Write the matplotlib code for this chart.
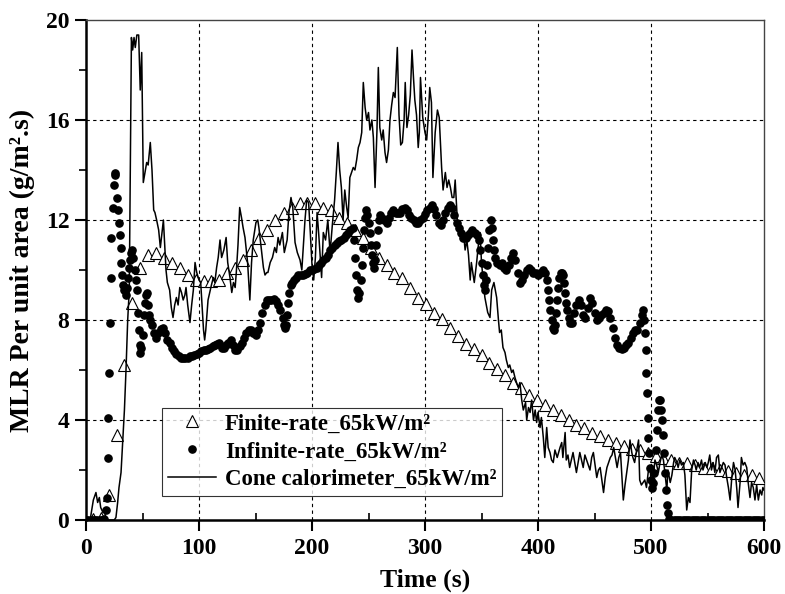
"""
MLR per unit area vs. time at 65 kW/m2.
Finite-rate and infinite-rate pyrolysis models compared with
the cone calorimeter measurement.
"""

import matplotlib.pyplot as plt
from matplotlib.ticker import MultipleLocator

# ==============================================================================
# 1. GLOBAL STYLE
# ==============================================================================
plt.rcParams['font.family'] = 'serif'
plt.rcParams['font.serif'] = ['Liberation Serif', 'DejaVu Serif']
plt.rcParams['font.weight'] = 'bold'
plt.rcParams['axes.labelweight'] = 'bold'

# ==============================================================================
# 2. DATA
# ==============================================================================
finite_t = [6, 13, 20, 27, 34, 41, 48, 55, 62, 69,
            76, 83, 90, 97, 104, 111, 118, 125, 132, 139,
            146, 153, 160, 167, 175, 182, 189, 196, 203, 210,
            217, 224, 231, 238, 245, 252, 259, 266, 273, 280,
            287, 294, 301, 308, 315, 322, 329, 336, 343, 350,
            357, 364, 371, 378, 385, 392, 399, 406, 413, 420,
            427, 434, 441, 448, 455, 462, 469, 476, 483, 490,
            497, 504, 511, 518, 525, 532, 539, 547, 554, 561,
            568, 575, 582, 589, 596]
finite_mlr = [0.05, 0.1, 1.0, 3.4, 6.2, 8.7, 10.1, 10.6, 10.7, 10.5,
              10.3, 10.1, 9.8, 9.6, 9.55, 9.55, 9.6, 9.9, 10.1, 10.4,
              10.8, 11.3, 11.6, 12.0, 12.3, 12.5, 12.7, 12.7, 12.7, 12.5,
              12.4, 12.1, 11.9, 11.6, 11.3, 10.9, 10.5, 10.2, 9.9, 9.7,
              9.3, 8.9, 8.65, 8.3, 8.05, 7.7, 7.35, 7.05, 6.85, 6.6,
              6.3, 6.05, 5.8, 5.5, 5.3, 5.0, 4.8, 4.6, 4.4, 4.2,
              4.0, 3.8, 3.7, 3.5, 3.35, 3.2, 3.1, 2.95, 2.85, 2.8,
              2.7, 2.55, 2.5, 2.4, 2.3, 2.3, 2.2, 2.1, 2.1, 2.0,
              1.95, 1.9, 1.8, 1.8, 1.7]

infinite_t = [0, 2, 4, 6, 8, 10, 12, 14, 16, 17.7,
              18.3, 19.5, 19.9, 20.6, 21.5, 22.0, 22.5, 23.6, 24.5, 25.3,
              25.8, 27.5, 28.5, 29.3, 30.0, 30.7, 31.3, 32.0, 33.0, 34.0,
              35, 36, 37, 38, 39, 40, 41, 42, 43, 44,
              45, 46, 47, 47.5, 48, 49, 50, 51, 52, 53,
              54, 55, 56, 57, 58, 60, 62, 64, 66, 68,
              70, 72, 74, 76, 78, 80, 82, 84, 86, 88,
              90, 92, 94, 96, 98, 100, 102, 104, 106, 108,
              110, 112, 114, 116, 118, 120, 122, 124, 126, 128,
              130, 132, 134, 136, 138, 140, 142, 144, 146, 148,
              150, 152, 154, 156, 158, 160, 162, 164, 166, 168,
              170, 172, 174, 175, 176, 177, 178, 179, 180, 181,
              182, 184, 186, 188, 190, 192, 194, 196, 198, 200,
              202, 204, 206, 208, 210, 212, 214, 216, 218, 220,
              222, 224, 226, 228, 230, 232, 234, 236, 237, 238,
              239, 240, 241, 242, 243, 244, 245, 246, 247, 248,
              249, 250, 251, 252, 253, 254, 255, 256, 257, 258,
              259, 260, 262, 264, 266, 268, 270, 272, 274, 276,
              278, 280, 282, 284, 286, 288, 290, 292, 294, 296,
              298, 300, 302, 304, 306, 308, 310, 312, 314, 316,
              318, 320, 322, 324, 326, 328, 330, 332, 334, 336,
              338, 340, 342, 344, 346, 348, 349, 350, 351, 352,
              353, 354, 355, 356, 357, 358, 359, 360, 361, 362,
              364, 366, 368, 370, 372, 374, 376, 378, 380, 382,
              384, 386, 388, 390, 392, 394, 396, 398, 400, 402,
              404, 406, 408, 409, 410, 411, 412, 413, 414, 415,
              416, 417, 418, 419, 420, 421, 422, 423, 424, 425,
              426, 427, 428, 430, 432, 434, 436, 438, 440, 442,
              444, 446, 448, 450, 452, 454, 456, 458, 460, 462,
              464, 466, 468, 470, 472, 474, 476, 478, 480, 482,
              484, 486, 488, 490, 492, 493, 494, 495, 495.5, 496,
              496.5, 497, 497.5, 498, 499, 500, 501, 502, 503, 504,
              505, 506, 507, 508, 509, 510, 511, 511.5, 512, 513,
              514, 515, 516, 518, 520, 522, 524, 526, 528, 530,
              532, 534, 536, 538, 540, 542, 544, 546, 548, 550,
              552, 554, 556, 558, 560, 562, 564, 566, 568, 570,
              572, 574, 576, 578, 580, 582, 584, 586, 588, 590,
              592, 594, 596, 598, 600]
infinite_mlr = [0, 0, 0, 0, 0, 0, 0, 0, 0.05, 0.4,
                0.9, 2.5, 4.1, 5.9, 7.9, 9.7, 11.3, 12.5, 13.4, 13.8,
                13.9, 12.9, 12.4, 11.9, 11.4, 10.9, 10.3, 9.8, 9.4, 9.2,
                9.0, 9.3, 9.7, 10.1, 10.4, 10.7, 10.8, 10.5, 10.0, 9.6,
                9.2, 8.3, 7.6, 7.0, 6.7, 6.9, 7.4, 8.2, 8.7, 9.0,
                9.1, 8.6, 8.2, 8.0, 7.8, 7.5, 7.3, 7.5, 7.65, 7.7,
                7.5, 7.2, 7.1, 6.9, 6.75, 6.65, 6.55, 6.5, 6.5, 6.5,
                6.5, 6.55, 6.55, 6.6, 6.65, 6.7, 6.75, 6.8, 6.8, 6.85,
                6.9, 6.95, 7.0, 7.05, 7.1, 6.9, 6.9, 7.0, 7.1, 7.2,
                7.0, 6.8, 6.8, 6.95, 7.1, 7.3, 7.5, 7.6, 7.6, 7.5,
                7.4, 7.6, 7.9, 8.3, 8.6, 8.8, 8.8, 8.8, 8.85, 8.75,
                8.6, 8.4, 8.1, 7.8, 7.7, 7.8, 8.2, 8.7, 9.1, 9.4,
                9.5, 9.6, 9.7, 9.8, 9.8, 9.8, 9.85, 9.9, 10.0, 10.0,
                10.05, 10.1, 10.2, 10.3, 10.4, 10.5, 10.6, 10.8, 10.9, 11.0,
                11.1, 11.15, 11.2, 11.3, 11.4, 11.5, 11.6, 11.7, 11.2, 10.5,
                9.8, 9.2, 8.9, 9.1, 9.6, 10.2, 10.9, 11.6, 12.1, 12.4,
                12.2, 11.9, 11.5, 11.0, 10.6, 10.3, 10.1, 10.4, 11.0, 11.6,
                12.0, 12.2, 12.1, 12.0, 11.9, 12.1, 12.3, 12.4, 12.3, 12.3,
                12.3, 12.45, 12.5, 12.4, 12.2, 12.1, 12.0, 11.9, 11.9, 12.0,
                12.1, 12.25, 12.4, 12.5, 12.6, 12.45, 12.2, 11.9, 11.8, 12.0,
                12.3, 12.5, 12.6, 12.5, 12.2, 11.9, 11.7, 11.5, 11.3, 11.3,
                11.4, 11.5, 11.6, 11.5, 11.4, 11.2, 10.8, 10.3, 9.8, 9.4,
                9.2, 9.6, 10.2, 10.9, 11.6, 12.0, 11.7, 11.2, 10.8, 10.5,
                10.3, 10.2, 10.3, 10.1, 10.0, 10.2, 10.5, 10.7, 10.4, 9.9,
                9.5, 9.6, 9.8, 10.0, 10.1, 10.0, 9.9, 9.9, 9.8, 9.9,
                10.0, 9.9, 9.6, 9.2, 8.8, 8.4, 8.0, 7.7, 7.6, 7.8,
                8.3, 8.8, 9.3, 9.7, 9.9, 9.9, 9.8, 9.5, 9.1, 8.7,
                8.4, 8.1, 7.9, 7.9, 8.3, 8.6, 8.8, 8.6, 8.2, 8.1,
                8.5, 8.9, 8.7, 8.3, 8.0, 8.1, 8.2, 8.3, 8.4, 8.35,
                8.1, 7.7, 7.3, 7.0, 6.9, 6.85, 6.9, 7.0, 7.1, 7.3,
                7.5, 7.6, 7.6, 7.9, 8.2, 8.4, 8.0, 7.5, 6.8, 5.9,
                5.1, 4.1, 3.3, 2.7, 2.1, 1.6, 1.3, 1.5, 1.9, 2.8,
                3.6, 4.4, 4.8, 4.8, 4.4, 4.0, 3.4, 2.7, 1.9, 1.2,
                0.6, 0.3, 0.05, 0, 0, 0, 0, 0, 0, 0,
                0, 0, 0, 0, 0, 0, 0, 0, 0, 0,
                0, 0, 0, 0, 0, 0, 0, 0, 0, 0,
                0, 0, 0, 0, 0, 0, 0, 0, 0, 0,
                0, 0, 0, 0, 0]

cone_t = [0, 2, 4, 6.5, 8.8, 10.3, 11.8, 13, 15, 16,
          17.5, 19, 21, 23, 25, 26.5, 28, 29.2, 31, 32.4,
          34, 35.4, 36.9, 38.3, 39.2, 40.2, 41.3, 42.5, 43.6, 45,
          46.6, 48, 49.3, 50.7, 52.2, 53.7, 55, 56.9, 58.4, 59.9,
          61, 62.5, 64.3, 65.8, 67, 68.5, 70.8, 72, 74, 75.5,
          77, 78.5, 80, 81.5, 83, 84.5, 86, 87.5, 88.5, 90,
          92, 93.5, 95, 96.5, 98, 100, 101.5, 103, 104, 105,
          106, 108, 109.5, 111, 112.7, 114, 115.6, 117, 118.6, 120,
          122, 124, 125.4, 127.4, 129, 130.5, 132, 133, 134.5, 136,
          137.6, 139, 140.7, 143, 145, 146.5, 148, 150.4, 152, 153,
          155, 157, 158.4, 160, 161, 163, 165, 167, 168.5, 170,
          171.5, 173.8, 175.5, 178, 179.6, 181.4, 183, 185, 187, 189.4,
          191, 193.8, 195.3, 197, 198.5, 200, 201.5, 203, 204.5, 206,
          208.5, 210, 212, 214, 216, 218, 220, 221.5, 223, 224.5,
          226, 227.5, 229, 230.7, 232, 233.5, 235, 236.5, 238, 239.5,
          241, 242.5, 244, 245.4, 247, 248.4, 250, 251.3, 253, 254.3,
          255.8, 257.5, 258.7, 260, 261.7, 263, 264.6, 266, 267.6, 269,
          270.5, 272, 273.5, 275.5, 277, 278.5, 280, 281.5, 282.5, 284,
          285.5, 287, 288.5, 289.8, 291, 292.5, 294, 295, 296, 298,
          300, 301.5, 303, 304.2, 305.7, 307, 309, 311, 312.6, 314.7,
          316, 318, 319.5, 321, 322.5, 324, 325.5, 326.7, 328.6, 331,
          332.5, 334, 335.5, 337, 338.5, 340, 341, 343.6, 345.7, 347,
          348.7, 350, 351.5, 353, 355.5, 357.5, 359, 361, 363.4, 365,
          366, 367.5, 369, 370.8, 372, 373.7, 375, 376.7, 378, 379.6,
          381, 382.6, 384, 385.6, 387, 389, 390, 391.6, 393, 394.4,
          396, 397.5, 398.8, 400, 401.8, 403, 404.7, 406, 407.7, 409,
          410.6, 412, 413.5, 415, 417, 419.5, 421, 422, 424, 425,
          426.5, 428, 429.5, 431, 432.5, 434, 435.5, 437, 438.5, 440,
          441.5, 443, 444.5, 446, 447.5, 449, 450.5, 452, 453.5, 455,
          456.5, 458, 459.5, 461, 462.5, 464, 465.5, 467, 468.5, 470,
          471.5, 473, 474.5, 475.5, 477, 478.5, 480, 481.4, 483, 484,
          485.5, 487, 489, 490, 491.5, 493, 494.5, 496, 497.5, 499,
          500.5, 502, 503.5, 505, 506.5, 508, 509.5, 511, 512, 514,
          515, 517, 518.5, 520, 521, 523, 524, 525.5, 527, 528.6,
          530, 531.6, 533, 534.5, 536, 537.6, 539, 540, 541.6, 543,
          544.7, 546, 548, 549.5, 550.7, 552, 553.5, 555, 556.5, 558,
          559.6, 561, 562.5, 564, 565.5, 567, 568.5, 570, 571.5, 573,
          574.5, 576, 577, 579, 580, 581.5, 583, 584.7, 586, 587.6,
          589, 590.5, 592, 593.5, 595, 596.5, 598, 599, 600]
cone_mlr = [0, 0, 0.1, 0.8, 1.1, 0.7, 0.9, 0.5, 0.3, 0.4,
            0.1, 0, 0, 0, 0, 0.1, 0.7, 1.3, 1.9, 3.1,
            4.4, 6.0, 8.0, 9.2, 14.0, 19.3, 18.8, 19.3, 18.9, 19.4,
            19.4, 17.2, 18.7, 13.5, 13.9, 14.3, 14.2, 15.1, 14.0, 12.4,
            12.3, 12.0, 11.6, 10.9, 11.4, 12.0, 10.0, 9.5, 9.2, 8.5,
            8.1, 8.6, 8.9, 8.6, 9.3, 9.1, 8.8, 9.0, 9.3, 8.6,
            7.9, 8.6, 9.2, 10.3, 9.9, 9.6, 9.5, 8.4, 7.6, 7.2,
            7.6, 8.8, 9.1, 9.4, 9.7, 9.5, 10.1, 10.5, 11.2, 10.5,
            10.8, 11.3, 10.3, 9.7, 9.1, 9.5, 9.3, 9.9, 11.0, 12.5,
            12.1, 11.7, 11.3, 10.3, 8.8, 10.3, 11.2, 11.9, 12.0, 11.7,
            10.9, 10.1, 9.8, 9.9, 9.9, 10.3, 10.5, 10.9, 10.7, 11.3,
            11.0, 11.5, 10.7, 11.2, 12.3, 12.9, 12.5, 11.1, 10.7, 10.4,
            10.0, 12.0, 12.8, 12.7, 11.5, 10.2, 9.6, 10.5, 12.3, 11.4,
            9.7, 11.5, 11.2, 12.0, 10.7, 11.8, 12.8, 13.9, 15.1, 14.0,
            13.3, 12.0, 13.2, 12.5, 12.1, 13.7, 13.9, 14.1, 14.0, 14.4,
            14.9, 15.1, 15.5, 17.5, 16.5, 16.0, 16.3, 15.6, 16.0, 15.3,
            13.3, 15.6, 18.1, 15.7, 15.2, 15.6, 14.7, 14.3, 14.8, 16.0,
            16.6, 17.1, 16.9, 18.9, 16.2, 15.0, 15.1, 16.0, 17.5, 15.7,
            16.2, 17.0, 18.8, 17.7, 16.8, 16.2, 14.9, 15.5, 17.7, 16.1,
            15.5, 15.2, 16.2, 17.3, 16.7, 13.7, 15.5, 16.4, 16.1, 14.1,
            13.2, 13.9, 13.3, 13.6, 13.3, 12.9, 12.9, 13.6, 12.0, 11.7,
            11.3, 11.5, 10.8, 11.2, 10.6, 9.6, 10.3, 9.5, 10.3, 10.9,
            11.5, 10.3, 9.6, 8.9, 8.3, 8.1, 9.2, 9.5, 8.9, 8.0,
            7.5, 7.6, 6.9, 6.7, 6.4, 6.1, 6.2, 5.9, 6.0, 5.7,
            5.5, 5.3, 5.5, 4.8, 4.4, 4.7, 4.0, 4.5, 4.3, 4.8,
            4.0, 4.4, 3.9, 4.3, 3.7, 4.1, 3.3, 2.5, 3.7, 2.9,
            2.7, 2.4, 2.3, 2.8, 2.5, 2.9, 3.1, 2.5, 3.5, 2.4,
            2.6, 2.1, 2.4, 2.7, 2.3, 1.9, 2.3, 2.7, 2.4, 2.1,
            2.6, 2.4, 2.2, 2.0, 2.5, 2.7, 2.2, 1.7, 2.0, 2.1,
            1.6, 1.1, 1.7, 2.1, 2.3, 2.5, 2.6, 2.9, 2.5, 2.1,
            2.5, 2.7, 1.6, 0.8, 1.4, 1.9, 2.4, 3.2, 2.7, 2.5,
            2.3, 2.7, 3.2, 1.6, 1.4, 1.5, 1.6, 1.3, 1.9, 2.1,
            1.4, 1.7, 2.4, 2.2, 1.9, 2.3, 2.6, 2.4, 2.0, 1.2,
            2.0, 1.5, 1.8, 2.3, 2.5, 2.3, 2.1, 2.4, 2.2, 2.3,
            1.8, 0.4, 0.9, 0.7, 2.0, 2.4, 2.2, 2.0, 2.3, 2.1,
            2.4, 2.0, 2.3, 2.1, 2.3, 2.6, 2.0, 2.3, 1.9, 2.5,
            2.6, 1.9, 2.1, 2.3, 2.2, 1.7, 1.3, 0.8, 1.7, 2.3,
            2.0, 1.2, 0.5, 1.6, 2.5, 2.2, 2.3, 2.1, 1.5, 0.9,
            1.5, 1.3, 0.8, 1.4, 0.8, 1.2, 1.0, 1.3, 1.2]

series_labels = ['Finite-rate_65kW/m²',
                 'Infinite-rate_65kW/m²',
                 'Cone calorimeter_65kW/m²']
x_ticks = [0, 100, 200, 300, 400, 500, 600]
y_ticks = [0, 4, 8, 12, 16, 20]


# ==============================================================================
# 3. FIGURE
# ==============================================================================

def generate_mlr_plot(output_filename: str = 'out.png') -> str:
    fig = plt.figure(figsize=(7.85, 5.94), dpi=100)
    ax = fig.add_axes([86 / 785, 74 / 594, 678 / 785, 500 / 594])

    # Interior dashed grid (not on the frame)
    for xv in x_ticks[1:-1]:
        ax.axvline(xv, color='black', linestyle=(0, (3, 3)), linewidth=0.8, zorder=1)
    for yv in y_ticks[1:-1]:
        ax.axhline(yv, color='black', linestyle=(0, (3, 3)), linewidth=0.8, zorder=1)

    ax.plot(finite_t, finite_mlr, linestyle='none', marker='^', markersize=8,
            markerfacecolor='white', markeredgecolor='black', markeredgewidth=0.8,
            label=series_labels[0], zorder=3)
    ax.plot(infinite_t, infinite_mlr, linestyle='none', marker='o', markersize=5.2,
            color='black', label=series_labels[1], zorder=4)
    ax.plot(cone_t, cone_mlr, color='black', linewidth=1.1,
            label=series_labels[2], zorder=5)

    ax.set_xlim(0, 600)
    ax.set_ylim(0, 20)
    ax.set_xticks(x_ticks)
    ax.set_yticks(y_ticks)
    ax.xaxis.set_minor_locator(MultipleLocator(50))
    ax.yaxis.set_minor_locator(MultipleLocator(2))

    ax.tick_params(axis='x', which='major', direction='out', length=8, width=1.5,
                   pad=5, labelsize=17)
    ax.tick_params(axis='x', which='minor', direction='in', length=5, width=1.2)
    ax.tick_params(axis='y', which='major', direction='out', length=8, width=1.5,
                   pad=4, labelsize=17)
    ax.tick_params(axis='y', which='minor', direction='out', length=5, width=1.2)

    for side in ('left', 'bottom'):
        ax.spines[side].set_linewidth(1.8)
        ax.spines[side].set_color('black')
    for side in ('top', 'right'):
        ax.spines[side].set_linewidth(1.0)
        ax.spines[side].set_color('#444444')

    ax.set_xlabel('Time (s)', fontsize=18.5, fontweight='bold', labelpad=7)
    ax.set_ylabel('MLR Per unit area (g/m².s)', fontsize=20, fontweight='bold',
                  labelpad=8)

    leg = ax.legend(loc='lower left', bbox_to_anchor=(0.112, 0.048),
                    fontsize=16.5, frameon=True, fancybox=False, numpoints=1,
                    handlelength=2.1, handletextpad=0.4, borderpad=0.25,
                    labelspacing=0.3, borderaxespad=0)
    leg.get_frame().set_edgecolor('black')
    leg.get_frame().set_linewidth(0.8)

    fig.savefig(output_filename, dpi=100)
    plt.close(fig)
    return output_filename


def main():
    generate_mlr_plot('out.png')


if __name__ == '__main__':
    main()
